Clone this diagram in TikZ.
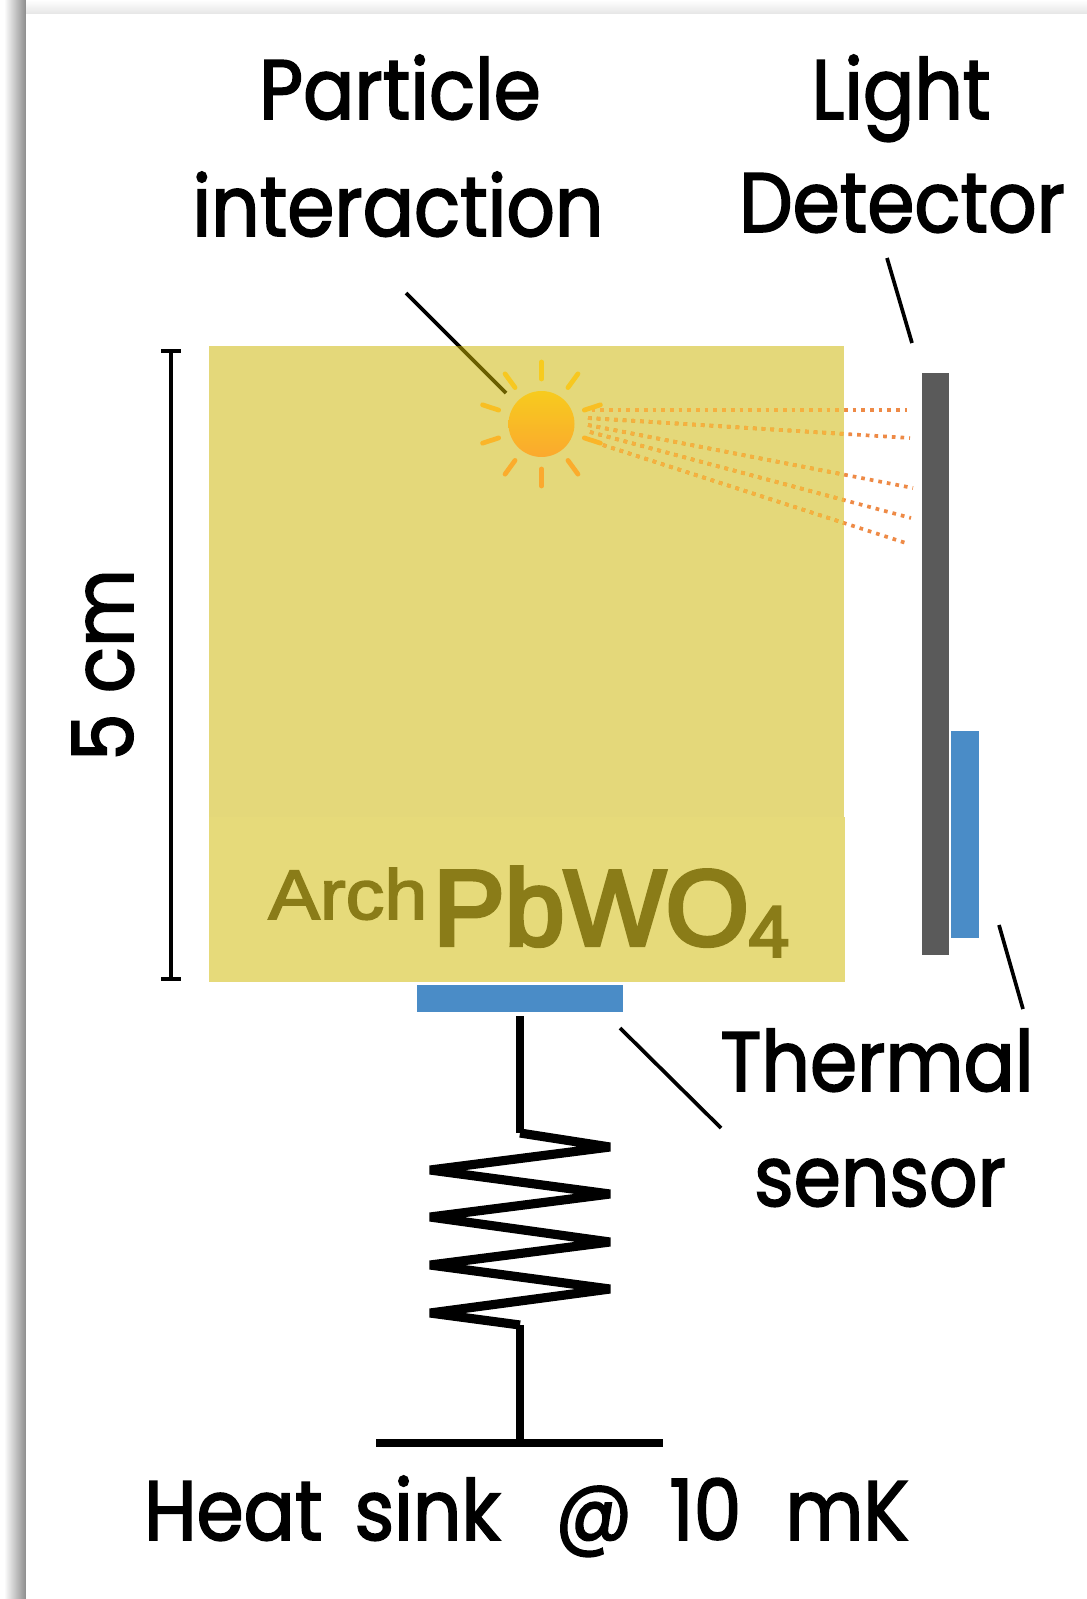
\documentclass[tikz,border=0pt]{standalone}
\usepackage{fontspec}
\setmainfont{Poppins}[FakeStretch=0.9,FakeBold=2]
\newfontfamily\crystalfont{Liberation Sans}[FakeBold=4]
\newfontfamily\archfont{Liberation Sans}[FakeStretch=1.1,FakeBold=2.5]
\usetikzlibrary{calc, positioning}
\definecolor{crystalfill}{RGB}{205,182,0}
\definecolor{crystalband}{RGB}{230,218,122}
\definecolor{crystaltext}{RGB}{138,124,24}
\definecolor{sensorblue}{RGB}{74,140,199}
\definecolor{detgray}{RGB}{90,90,90}
\definecolor{sunhigh}{RGB}{247,203,30}
\definecolor{sunlow}{RGB}{251,169,46}
\definecolor{rayout}{RGB}{238,138,70}
\definecolor{rayin}{RGB}{246,176,63}

\begin{document}
\begin{tikzpicture}[
    x=0.02cm,y=-0.02cm,
    lbl/.style={anchor=base,inner sep=0,font=\fontsize{48}{48}\selectfont},
    plate/.style={inner sep=0,minimum width=#1,fill=sensorblue},
    leader/.style={line width=2.1pt},
    wire/.style={line width=4.2pt,line join=bevel},
    coil/.style={line width=5.2pt,line join=bevel},
    dim/.style={line width=2pt},
    sunray/.style={line width=2.7pt,line cap=round},
    lightray/.style={line width=2.1pt,dash pattern=on 2.1pt off 2.85pt}
  ]
    \useasboundingbox (0,0) rectangle (1087,1599);
    \shade[left color=white,middle color=black!9,right color=black!45] (4,0) rectangle (26,1599);
    \shade[top color=white,bottom color=black!10] (26,0) rectangle (1087,14);
    \fill[white] (26,14) rectangle (1087,1599);

    \coordinate (partfree) at (406,293);
    \coordinate (partend) at (506,393);
    \draw[leader] (partfree) -- (partend);

    \foreach \n/\sx/\sy/\ex/\ey in {1/583/410/907/410,2/588/418/910/438,3/588/425/913/488,4/590/432/911/518,5/603/445/909/544}{
      \coordinate (rs\n) at (\sx,\sy);
      \coordinate (re\n) at (\ex,\ey);
      \draw[lightray,rayout] (rs\n) -- (re\n);
    }

    \node[inner sep=0,minimum width=12.7cm,minimum height=12.72cm,fill=crystalfill,fill opacity=.52] (crystal) at (526.5,664) {};
    \fill[crystalband] (209,817) rectangle (845,982);

    \begin{scope}
      \clip (crystal.north west) rectangle (crystal.south east);
      \foreach \n in {1,...,5}{
        \draw[lightray,rayin] (rs\n) -- (re\n);
      }
    \end{scope}

    \node[circle,inner sep=0,minimum size=1.32cm,top color=sunhigh,bottom color=sunlow] (sun) at (541.5,424) {};
    \foreach \a in {18,54,...,342}{
      \pgfmathsetmacro{\mix}{50+50*sin(\a)}
      \draw[sunray,sunlow!\mix!sunhigh] ($(sun)+(\a:45)$) -- ($(sun)+(\a:62)$);
    }

    \node[inner sep=0,minimum width=.55cm,minimum height=11.64cm,fill=detgray] (lightdet) at (935.5,664) {};
    \node[plate=.56cm,minimum height=4.14cm] (sideplate) at (965,834.5) {};
    \node[plate=4.12cm,minimum height=.54cm] (bottomplate) at (520,998.5) {};

    \node[lbl] (particle) at (400,119) {Particle};
    \node[lbl] (interaction) at (398,236) {interaction};
    \node[lbl] (light) at (901,119) {Light};
    \node[lbl] (detector) at (902,232) {Detector};
    \node[lbl] (thermal) at (877,1091) {Thermal};
    \node[lbl] (senstext) at (880,1206) {sensor};
    \node[lbl] (sink) at (526.5,1540) {Heat\hspace{.14em} sink\ \hspace{.41em}@\hspace{.2em} 10\hspace{.28em} mK};
    \node[lbl,rotate=90] (size) at (133,665) {5 cm};

    \node[anchor=base west,inner sep=0,text=crystaltext,font=\archfont\fontsize{40}{40}\selectfont] (arch) at (268,919) {Arch};
    \node[anchor=base west,inner sep=0,text=crystaltext,font=\crystalfont\fontsize{61}{61}\selectfont] (pbwo) at (433,945) {PbWO\raisebox{-.107em}{\fontsize{41}{41}\selectfont 4}};

    \coordinate (lightfree) at (887,258);
    \coordinate (lightend) at (912,343);
    \draw[leader] (lightfree) -- (lightend);
    \coordinate (sidefree) at (1023,1009);
    \coordinate (sideend) at (999,925);
    \draw[leader] (sidefree) -- (sideend);
    \coordinate (bottomfree) at (721,1128);
    \coordinate (bottomend) at (620,1028);
    \draw[leader] (bottomfree) -- (bottomend);

    \coordinate (dimtop) at (171,351);
    \coordinate (dimbot) at (171,979);
    \draw[dim] (dimtop) -- (dimbot);
    \draw[dim] ($(dimtop)+(-10,0)$) -- ($(dimtop)+(10,0)$);
    \draw[dim] ($(dimbot)+(-10,0)$) -- ($(dimbot)+(10,0)$);

    \coordinate (wiretop) at (520,1016);
    \coordinate (coiltop) at (520,1133);
    \coordinate (coilbot) at (520,1325);
    \coordinate (groundl) at (376,1443);
    \coordinate (groundr) at (663,1443);
    \coordinate (groundm) at (520,1443);
    \draw[wire] (wiretop) -- (coiltop);
    \draw[coil] (coiltop) -- (610,1147) -- (430,1170) -- (610,1194) -- (430,1217) -- (610,1242) -- (430,1265) -- (610,1289) -- (430,1313) -- (coilbot);
    \draw[wire] (coilbot) -- (groundm);
    \draw[wire] (groundl) -- (groundr);
  \end{tikzpicture}
\end{document}
